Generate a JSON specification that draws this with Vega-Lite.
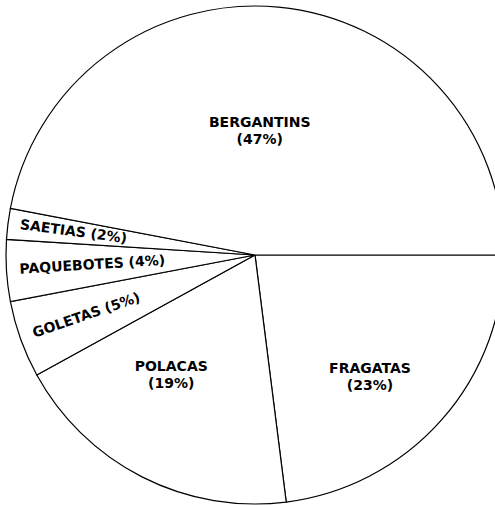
{
  "$schema": "https://vega.github.io/schema/vega-lite/v6.json",
  "width": 480,
  "height": 500,
  "autosize": "none",
  "padding": {"left": 15, "top": 5, "right": 0, "bottom": 0},
  "background": "white",
  "config": {"view": {"stroke": null}},
  "data": {
    "values": [
      {"i": 1, "type": "FRAGATAS", "share": 23, "label": "FRAGATAS\n(23%)"},
      {"i": 2, "type": "POLACAS", "share": 19, "label": "POLACAS\n(19%)"},
      {"i": 3, "type": "GOLETAS", "share": 5, "label": "GOLETAS (5%)"},
      {"i": 4, "type": "PAQUEBOTES", "share": 4, "label": "PAQUEBOTES (4%)"},
      {"i": 5, "type": "SAETIAS", "share": 2, "label": "SAETIAS (2%)"},
      {"i": 6, "type": "BERGANTINS", "share": 47, "label": "BERGANTINS\n(47%)"}
    ]
  },
  "encoding": {
    "theta": {"field": "share", "type": "quantitative", "stack": true, "scale": {"range": [1.5707963, 7.8539816]}},
    "order": {"field": "i", "type": "quantitative"}
  },
  "layer": [
    {
      "mark": {"type": "arc", "outerRadius": 249, "fill": "white", "stroke": "black", "strokeWidth": 1.2}
    },
    {
      "mark": {"type": "text", "radius": 125, "dx": -7, "dy": -8, "font": "DejaVu Sans", "fontSize": 14, "fontWeight": "bold", "lineBreak": "\n", "lineHeight": 17, "align": "center", "baseline": "middle", "color": "black"},
      "encoding": {"text": {"condition": {"test": "datum.type === 'BERGANTINS'", "field": "label"}, "value": ""}}
    },
    {
      "mark": {"type": "text", "radius": 168, "dx": -11, "dy": 3, "font": "DejaVu Sans", "fontSize": 14, "fontWeight": "bold", "lineBreak": "\n", "lineHeight": 17, "align": "center", "baseline": "middle", "color": "black"},
      "encoding": {"text": {"condition": {"test": "datum.type === 'FRAGATAS'", "field": "label"}, "value": ""}}
    },
    {
      "mark": {"type": "text", "radius": 147, "dx": -17, "dy": -19, "font": "DejaVu Sans", "fontSize": 14, "fontWeight": "bold", "lineBreak": "\n", "lineHeight": 17, "align": "center", "baseline": "middle", "color": "black"},
      "encoding": {"text": {"condition": {"test": "datum.type === 'POLACAS'", "field": "label"}, "value": ""}}
    },
    {
      "mark": {"type": "text", "radius": 179, "angle": -19, "font": "DejaVu Sans", "fontSize": 14, "fontWeight": "bold", "align": "center", "baseline": "middle", "color": "black"},
      "encoding": {"text": {"condition": {"test": "datum.type === 'GOLETAS'", "field": "label"}, "value": ""}}
    },
    {
      "mark": {"type": "text", "radius": 163, "angle": -3.5, "font": "DejaVu Sans", "fontSize": 14, "fontWeight": "bold", "align": "center", "baseline": "middle", "color": "black"},
      "encoding": {"text": {"condition": {"test": "datum.type === 'PAQUEBOTES'", "field": "label"}, "value": ""}}
    },
    {
      "mark": {"type": "text", "radius": 183, "angle": 7.5, "font": "DejaVu Sans", "fontSize": 14, "fontWeight": "bold", "align": "center", "baseline": "middle", "color": "black"},
      "encoding": {"text": {"condition": {"test": "datum.type === 'SAETIAS'", "field": "label"}, "value": ""}}
    }
  ]
}
